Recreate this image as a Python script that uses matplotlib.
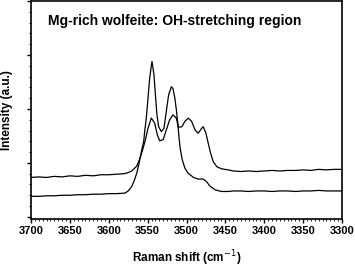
import matplotlib
matplotlib.use("Agg")
import matplotlib.pyplot as plt
from matplotlib.ticker import MultipleLocator

plt.rcParams['font.family'] = ['Liberation Sans', 'DejaVu Sans']

# Upper-baseline spectrum (broader, lower peaks)
shift_a = [3700, 3690, 3680, 3670, 3660, 3650, 3640, 3630, 3620, 3610, 3600, 3590,
           3580, 3575, 3570.5, 3564, 3560, 3556, 3553, 3549.5, 3545.3, 3541, 3537.5,
           3534.5, 3530, 3526, 3521.6, 3517.4, 3513, 3510.5, 3506, 3502, 3497.7, 3493.4,
           3489, 3485, 3480.5, 3478.5, 3475, 3472, 3469, 3465.5, 3461, 3455, 3446,
           3440, 3430, 3420, 3410, 3400, 3390, 3380, 3370, 3360, 3350, 3340, 3330,
           3320, 3310, 3300]
int_a = [0.73, 0.74, 0.73, 0.75, 0.74, 0.76, 0.75, 0.77, 0.76, 0.78, 0.78, 0.79,
         0.80, 0.82, 0.85, 0.94, 1.08, 1.26, 1.42, 1.64, 1.83, 1.74, 1.52,
         1.41, 1.43, 1.61, 1.80, 1.89, 1.83, 1.66, 1.67, 1.77, 1.83, 1.77,
         1.61, 1.55, 1.64, 1.67, 1.55, 1.36, 1.18, 1.02, 0.93, 0.89, 0.87,
         0.85, 0.84, 0.85, 0.84, 0.85, 0.86, 0.85, 0.86, 0.86, 0.87, 0.86, 0.88,
         0.87, 0.88, 0.88]

# Lower-baseline spectrum (sharp, tall peaks)
shift_b = [3700, 3690, 3680, 3670, 3660, 3650, 3640, 3630, 3620, 3610, 3600, 3590,
           3579, 3575, 3570.5, 3567, 3564, 3561, 3557.6, 3555, 3553.8, 3551.7, 3549.5,
           3547.4, 3544.4, 3541.8, 3540, 3538, 3535.8, 3532.4, 3529, 3526, 3523,
           3519.5, 3517.4, 3515, 3513, 3511, 3509.5, 3508, 3505.5, 3502, 3498,
           3491, 3485, 3478.5, 3474, 3470, 3463, 3455, 3446, 3440, 3430, 3420, 3410,
           3400, 3390, 3380, 3370, 3360, 3350, 3340, 3330, 3320, 3310, 3300]
int_b = [0.38, 0.38, 0.39, 0.39, 0.40, 0.40, 0.41, 0.41, 0.42, 0.42, 0.43, 0.43,
         0.44, 0.48, 0.56, 0.68, 0.81, 0.99, 1.24, 1.40, 1.58, 1.83, 2.20,
         2.57, 2.88, 2.63, 2.26, 1.89, 1.67, 1.58, 1.64, 1.95, 2.26,
         2.41, 2.38, 2.20, 1.98, 1.70, 1.45, 1.26, 1.06, 0.90, 0.81,
         0.73, 0.70, 0.70, 0.65, 0.57, 0.50, 0.47, 0.47, 0.48, 0.48, 0.47, 0.48,
         0.48, 0.47, 0.48, 0.48, 0.47, 0.48, 0.48, 0.49, 0.48, 0.48, 0.48]

x_ticks = [3700, 3650, 3600, 3550, 3500, 3450, 3400, 3350, 3300]

fig = plt.figure(figsize=(3.55, 2.72), dpi=100)
ax = fig.add_axes([31/355, 1 - 219/272, 311/355, 218/272])

ax.plot(shift_a, int_a, color='black', lw=0.9)
ax.plot(shift_b, int_b, color='black', lw=0.9)

ax.set_xlim(3700, 3300)
ax.set_ylim(-0.04, 4.0)
ax.set_xticks(x_ticks)
ax.set_xticklabels([str(t) for t in x_ticks], fontsize=8, fontweight='bold')
ax.xaxis.set_minor_locator(MultipleLocator(5))
ax.yaxis.set_major_locator(MultipleLocator(1))
ax.yaxis.set_minor_locator(MultipleLocator(0.2))
ax.set_yticklabels([])
ax.tick_params(which='major', direction='out', length=3, width=1.0, pad=2)
ax.tick_params(which='minor', direction='out', length=1.5, width=0.6)
for s in ax.spines.values():
    s.set_linewidth(1.2)

ax.set_xlabel('Raman shift (cm$^{-1}$)', fontsize=8.5, fontweight='bold', labelpad=9)
ax.set_ylabel('Intensity (a.u.)', fontsize=8.5, fontweight='bold', labelpad=8)
ax.text(0.055, 0.91, 'Mg-rich wolfeite: OH-stretching region', transform=ax.transAxes,
        fontsize=10, fontweight='bold', va='center', ha='left')

fig.savefig('out.png', dpi=100)
